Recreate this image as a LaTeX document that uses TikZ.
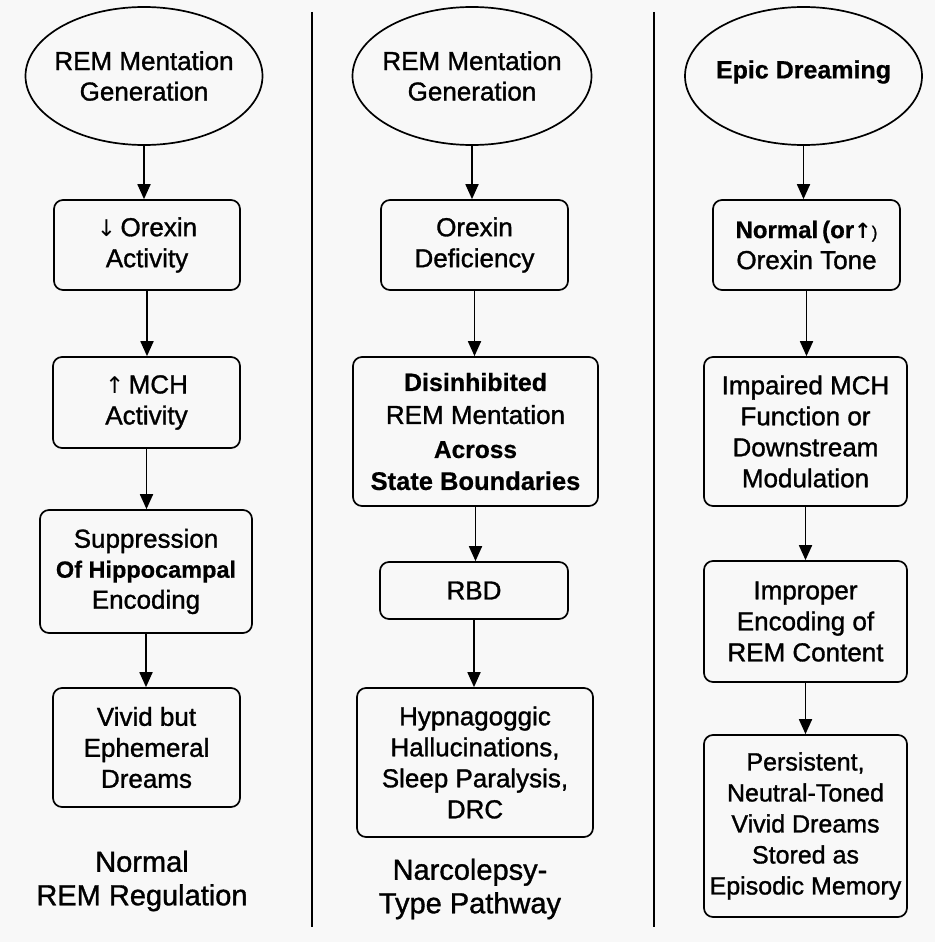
\documentclass[tikz,border=0pt]{standalone}
\usepackage{fontspec}
\setmainfont{Liberation Sans}[FakeBold=1.2,BoldFeatures={FakeBold=0.6}]
\newfontfamily\symf{DejaVu Sans}
\usetikzlibrary{shapes.geometric,arrows.meta}
\definecolor{bgc}{HTML}{F8F8F8}
\tikzset{
  x=1pt,y=-1pt,
  lw/.style={line width=1.7pt},
  oval/.style={ellipse,draw,lw,inner sep=0pt,minimum width=237pt,minimum height=138pt},
  ovaltext/.style={align=center,font=\fontsize{26}{30.5}\selectfont},
  stepbox/.style={rectangle,rounded corners=9pt,draw,lw,align=center,inner sep=0pt,font=\fontsize{26}{31}\selectfont},
  lbl/.style={align=center,font=\fontsize{29}{33.5}\selectfont},
  flow/.style={line width=1.8pt,-{Triangle[length=15pt,width=13pt]}},
  sep/.style={line width=2pt}
}
\begin{document}
\begin{tikzpicture}
\fill[bgc] (0,0) rectangle (935,942);
\useasboundingbox (0,0) rectangle (935,942);

% separators
\coordinate (s1t) at (312,12);
\coordinate (s1b) at (312,927);
\coordinate (s2t) at (654,12);
\coordinate (s2b) at (654,927);
\draw[sep] (s1t) -- (s1b);
\draw[sep] (s2t) -- (s2b);

% Column 1
\node[oval,label={[ovaltext]center:REM Mentation\\Generation}] (e1) at (144,76) {};
\node[stepbox,minimum width=186pt,minimum height=90pt] (a1) at (147,245) {{\symf\fontsize{23}{26}\selectfont↓}\,Orexin\\Activity};
\node[stepbox,minimum width=187pt,minimum height=91pt] (a2) at (146.5,402.5) {{\symf\fontsize{23}{26}\selectfont↑}\,MCH\\Activity};
\node[stepbox,minimum width=212pt,minimum height=123pt] (a3) at (146,571.5) {Suppression\\[-1pt]{\bfseries\fontsize{23.5}{28}\selectfont Of Hippocampal}\\Encoding};
\node[stepbox,minimum width=187pt,minimum height=119pt] (a4) at (146.5,747.5) {Vivid but\\Ephemeral\\Dreams};
\node[lbl] (l1) at (142,881) {Normal\\REM Regulation};

% Column 2
\node[oval,minimum width=239pt,label={[ovaltext]center:REM Mentation\\Generation}] (e2) at (472,76) {};
\node[stepbox,minimum width=187pt,minimum height=90pt] (b1) at (474.5,245) {Orexin\\Deficiency};
\node[stepbox,minimum width=245pt,minimum height=149pt] (b2) at (475.5,431.5) {{\bfseries\fontsize{25}{28}\selectfont Disinhibited}\\[2pt]REM Mentation\\[3pt]{\bfseries\fontsize{24.5}{28}\selectfont Across}\\[1pt]{\bfseries\fontsize{25.5}{28}\selectfont State Boundaries}};
\node[stepbox,minimum width=188pt,minimum height=57pt] (b3) at (474,590.5) {RBD};
\node[stepbox,minimum width=236pt,minimum height=149pt] (b4) at (475,762.5) {Hypnagoggic\\Hallucinations,\\Sleep Paralysis,\\DRC};
\node[lbl] (l2) at (470,889) {Narcolepsy-\\Type Pathway};

% Column 3
\node[oval,label={[ovaltext,font=\bfseries\fontsize{25}{30}\selectfont,yshift=4pt]center:Epic Dreaming}] (e3) at (803.5,76) {};
\node[stepbox,minimum width=187pt,minimum height=90pt] (c1) at (806.5,245) {{\bfseries\fontsize{24}{26}\selectfont Normal\,(or{\symf\fontsize{21}{22}\selectfont\bfseries ↑}{\fontsize{17}{20}\selectfont\mdseries)}}\\Orexin Tone};
\node[stepbox,minimum width=203pt,minimum height=149pt] (c2) at (805.5,431.5) {Impaired MCH\\Function or\\Downstream\\Modulation};
\node[stepbox,minimum width=203pt,minimum height=121pt] (c3) at (805.5,621.5) {Improper\\Encoding of\\REM Content};
\node[stepbox,minimum width=203pt,minimum height=182pt,font=\fontsize{25}{31}\selectfont] (c4) at (805.5,826) {Persistent,\\Neutral-Toned\\Vivid Dreams\\Stored as\\Episodic Memory};

% arrows
\foreach \p/\q in {e1/a1,a1/a2,a2/a3,a3/a4,e2/b1,b1/b2,b2/b3,b3/b4,e3/c1,c1/c2,c2/c3,c3/c4}{
  \draw[flow] (\p.south) -- (\p.south |- \q.north);
}
\end{tikzpicture}
\end{document}
